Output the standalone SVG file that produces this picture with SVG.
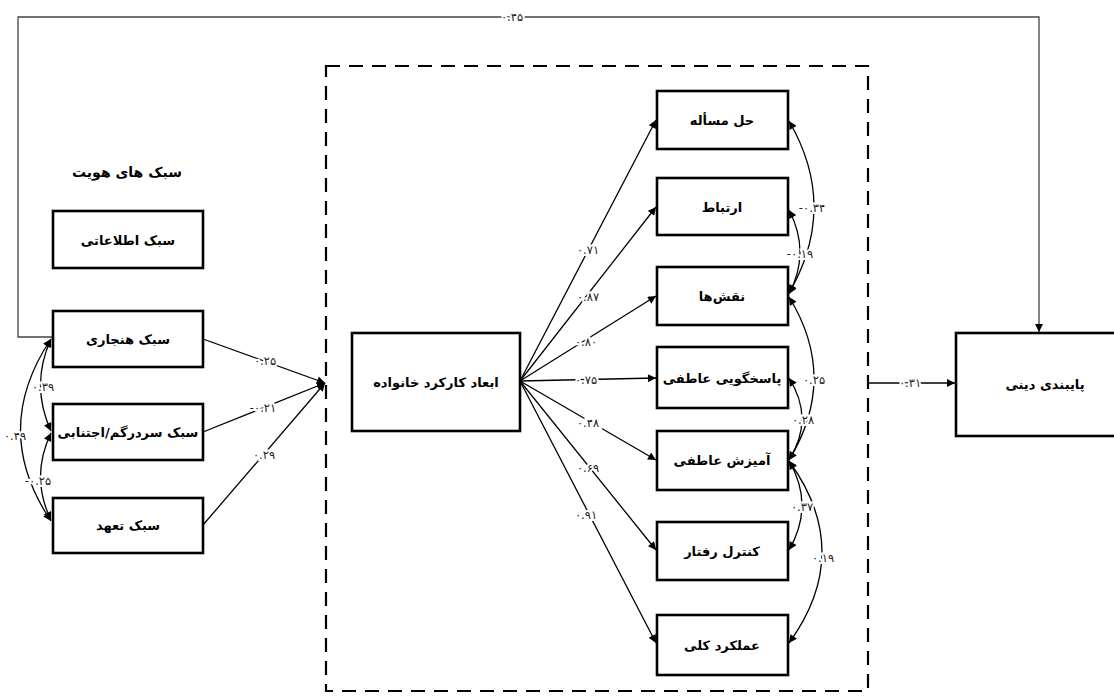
<svg xmlns="http://www.w3.org/2000/svg" width="1114" height="696" viewBox="0 0 1114 696">
<style>
.box{fill:#fff;stroke:#000;stroke-width:2.6}
.t{font-family:"DejaVu Sans",sans-serif;font-weight:bold;font-size:13px;text-anchor:middle;dominant-baseline:central;fill:#000}
.h{font-size:14px}
.l{font-family:"DejaVu Sans",sans-serif;font-size:11.5px;text-anchor:middle;dominant-baseline:central;fill:#222;stroke:#fff;stroke-width:4;paint-order:stroke}
.c{fill:none;stroke:#000;stroke-width:1.3}
.a{marker-end:url(#ah)}
.d{marker-start:url(#ah);marker-end:url(#ah)}
</style>
<defs>
<marker id="ah" viewBox="0 0 10 10" refX="10" refY="5" markerWidth="9" markerHeight="8" markerUnits="userSpaceOnUse" orient="auto-start-reverse">
<path d="M0,0 L10,5 L0,10 z" fill="#000"/>
</marker>
</defs>
<rect width="1114" height="696" fill="#fff"/>
<rect x="326" y="66" width="542" height="625" fill="none" stroke="#000" stroke-width="2.2" stroke-dasharray="14,9"/>
<text class="t h" x="127" y="172">سبک های هویت</text>
<g id="connectors">
<path class="c a" d="M53,337 H18 V17 H1039 V332" style="stroke:#444"/>
<path class="c a" d="M203,339 L325,383"/>
<path class="c a" d="M203,432 L325,383"/>
<path class="c a" d="M203,525 L325,383"/>
<path class="c a" d="M520,381 L656,120"/>
<path class="c a" d="M520,381 L656,207"/>
<path class="c a" d="M520,381 L656,296"/>
<path class="c a" d="M520,381 L656,378"/>
<path class="c a" d="M520,381 L656,460"/>
<path class="c a" d="M520,381 L656,550"/>
<path class="c a" d="M520,381 L656,643"/>
<path class="c a" d="M868,383 L955,383"/>
<path class="c d" d="M51,339 Q30,385 51,431"/>
<path class="c d" d="M51,433 Q30,477 51,520"/>
<path class="c d" d="M51,339 Q-10,430 51,521"/>
<path class="c d" d="M789,121 Q839,207 789,293"/>
<path class="c d" d="M789,210 Q811,252 789,294"/>
<path class="c d" d="M789,297 Q839,378 789,460"/>
<path class="c d" d="M789,378 Q815,419 789,460"/>
<path class="c d" d="M789,461 Q815,505 789,550"/>
<path class="c d" d="M789,461 Q855,552 789,643"/>
<text class="l" x="512" y="17">۰.۴۵</text>
<text class="l" x="265" y="361">۰.۲۵</text>
<text class="l" x="263" y="408">-۰.۲۱</text>
<text class="l" x="264" y="455">۰.۲۹</text>
<text class="l" x="43" y="387">۰.۳۹</text>
<text class="l" x="38" y="481">-۰.۲۵</text>
<text class="l" x="15" y="436">۰.۴۹</text>
<text class="l" x="588" y="250">۰.۷۱</text>
<text class="l" x="588" y="297">۰.۸۷</text>
<text class="l" x="586" y="342">۰.۸۰</text>
<text class="l" x="586" y="380">۰.۷۵</text>
<text class="l" x="588" y="423">۰.۴۸</text>
<text class="l" x="588" y="468">۰.۶۹</text>
<text class="l" x="586" y="515">۰.۹۱</text>
<text class="l" x="812" y="208">-۰.۳۴</text>
<text class="l" x="800" y="254">-۰.۱۹</text>
<text class="l" x="814" y="380">۰.۲۵</text>
<text class="l" x="803" y="420">۰.۲۸</text>
<text class="l" x="802" y="507">۰.۳۷</text>
<text class="l" x="823" y="558">۰.۱۹</text>
<text class="l" x="910" y="383">۰.۳۱</text>
</g>
<g id="n-info"><rect class="box" x="53" y="211" width="150" height="57"/><text class="t" x="128" y="240">سبک اطلاعاتی</text></g>
<g id="n-norm"><rect class="box" x="53" y="311" width="150" height="56"/><text class="t" x="128" y="339">سبک هنجاری</text></g>
<g id="n-diff"><rect class="box" x="53" y="404" width="150" height="56"/><text class="t" x="128" y="432">سبک سردرگم/اجتنابی</text></g>
<g id="n-comm"><rect class="box" x="53" y="498" width="150" height="55"/><text class="t" x="128" y="525">سبک تعهد</text></g>
<g id="n-family"><rect class="box" x="352" y="333" width="168" height="98"/><text class="t" x="436" y="382">ابعاد کارکرد خانواده</text></g>
<g id="n-ps"><rect class="box" x="657" y="91" width="131" height="58"/><text class="t" x="722" y="120">حل مسأله</text></g>
<g id="n-com"><rect class="box" x="657" y="178" width="131" height="57"/><text class="t" x="722" y="207">ارتباط</text></g>
<g id="n-roles"><rect class="box" x="657" y="267" width="131" height="58"/><text class="t" x="722" y="296">نقش‌ها</text></g>
<g id="n-ar"><rect class="box" x="657" y="347" width="131" height="61"/><text class="t" x="722" y="378">پاسخگویی عاطفی</text></g>
<g id="n-ai"><rect class="box" x="657" y="431" width="131" height="59"/><text class="t" x="722" y="460">آمیزش عاطفی</text></g>
<g id="n-bc"><rect class="box" x="657" y="522" width="131" height="58"/><text class="t" x="722" y="551">کنترل رفتار</text></g>
<g id="n-gf"><rect class="box" x="657" y="615" width="131" height="60"/><text class="t" x="722" y="645">عملکرد کلی</text></g>
<g id="n-rel"><rect class="box" x="956" y="333" width="170" height="103"/><text class="t" x="1045" y="384">پایبندی دینی</text></g>
</svg>
